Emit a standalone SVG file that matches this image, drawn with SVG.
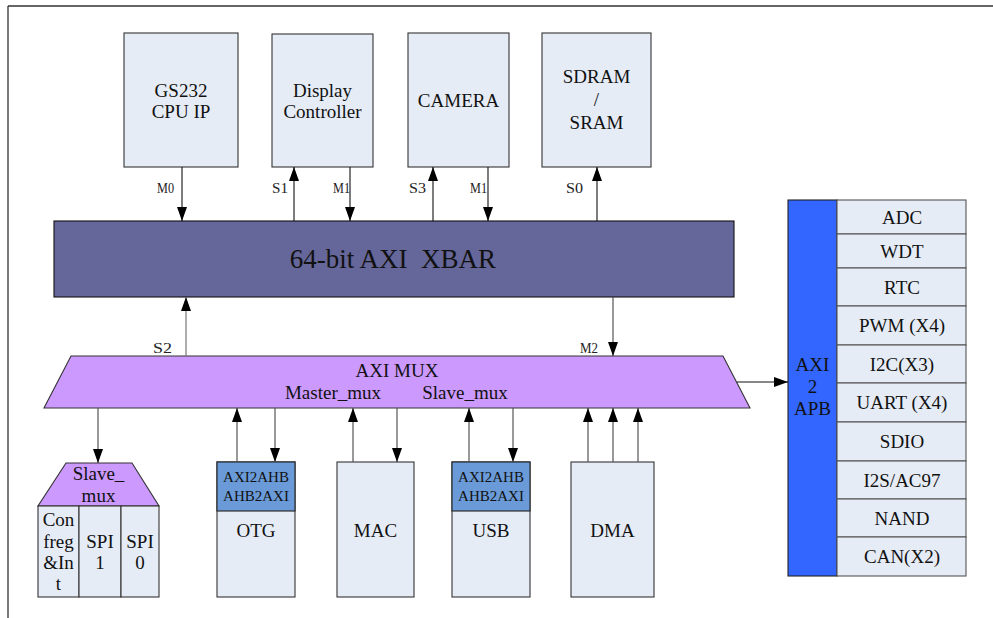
<svg xmlns="http://www.w3.org/2000/svg" width="993" height="618" viewBox="0 0 993 618">
<style>
text{font-family:"Liberation Serif","Times New Roman",serif;fill:#111;text-anchor:middle}
.t{font-size:19px}
.s{font-size:15px}
.lb{font-size:15px;text-anchor:start;fill:#222}
.box{fill:#e6ecf6;stroke:#333;stroke-width:1.1}
.per{fill:#e6ecf6;stroke:#555;stroke-width:1.1}
.hdr{fill:#6a9bd8;stroke:#222;stroke-width:1.1}
.c{stroke:#111;stroke-width:1.1;fill:none;marker-end:url(#ah)}
.cg{stroke:#555;stroke-width:1.2;fill:none;marker-end:url(#ah)}
</style>
<defs>
<marker id="ah" viewBox="0 0 14 10" refX="14" refY="5" markerWidth="14" markerHeight="10" markerUnits="userSpaceOnUse" orient="auto">
<path d="M0,0 L14,5 L0,10 z" fill="#000"/>
</marker>
</defs>
<rect width="993" height="618" fill="#fff"/>
<g id="frame" stroke="#333" stroke-width="1.3" fill="none">
<line x1="8" y1="6" x2="993" y2="6"/>
<line x1="8" y1="6" x2="8" y2="618"/>
</g>

<g id="cpu"><rect class="box" x="124" y="33" width="114" height="134"/>
<text class="t" x="181" y="97">GS232</text><text class="t" x="181" y="118">CPU IP</text></g>
<g id="display"><rect class="box" x="272" y="34" width="101" height="133"/>
<text class="t" x="322.5" y="97">Display</text><text class="t" x="322.5" y="118">Controller</text></g>
<g id="camera"><rect class="box" x="408" y="33" width="101" height="134"/>
<text class="t" x="458.5" y="107">CAMERA</text></g>
<g id="sdram"><rect class="box" x="542" y="33" width="109" height="134"/>
<text class="t" x="596.5" y="83">SDRAM</text><text class="t" x="596.5" y="106">/</text><text class="t" x="596.5" y="129">SRAM</text></g>

<g id="xbar"><rect x="54" y="221" width="680" height="76" fill="#656699" stroke="#111" stroke-width="1.1"/>
<text x="393" y="268" style="font-size:27px" xml:space="preserve">64-bit AXI  XBAR</text></g>

<g id="axi_mux"><polygon points="71,356 723,356 750,408 44,408" fill="#cc99ff" stroke="#333" stroke-width="1.1"/>
<text class="t" x="397" y="377">AXI MUX</text>
<text class="t" x="333" y="399">Master_mux</text>
<text class="t" x="465" y="399">Slave_mux</text></g>

<g id="axi2apb"><rect x="788" y="200" width="49" height="376" fill="#3366ff" stroke="#222" stroke-width="1.1"/>
<text class="t" x="812.5" y="371">AXI</text><text class="t" x="812.5" y="393">2</text><text class="t" x="812.5" y="415">APB</text></g>

<g id="peripherals">
<rect class="per" x="837" y="200" width="129" height="34"/><text class="t" x="902" y="223.5">ADC</text>
<rect class="per" x="837" y="234" width="129" height="34"/><text class="t" x="902" y="257.5">WDT</text>
<rect class="per" x="837" y="268" width="129" height="38"/><text class="t" x="902" y="293.5">RTC</text>
<rect class="per" x="837" y="306" width="129" height="39"/><text class="t" x="902" y="332">PWM (X4)</text>
<rect class="per" x="837" y="345" width="129" height="38"/><text class="t" x="902" y="370.5">I2C(X3)</text>
<rect class="per" x="837" y="383" width="129" height="39"/><text class="t" x="902" y="409">UART (X4)</text>
<rect class="per" x="837" y="422" width="129" height="39"/><text class="t" x="902" y="448">SDIO</text>
<rect class="per" x="837" y="461" width="129" height="38"/><text class="t" x="902" y="486.5">I2S/AC97</text>
<rect class="per" x="837" y="499" width="129" height="38"/><text class="t" x="902" y="524.5">NAND</text>
<rect class="per" x="837" y="537" width="129" height="39"/><text class="t" x="902" y="563">CAN(X2)</text>
</g>

<g id="slave_mux"><polygon points="66,463 132,463 159,506 38,506" fill="#cc99ff" stroke="#333" stroke-width="1.1"/>
<text class="t" x="98.5" y="480">Slave_</text><text class="t" x="98.5" y="502">mux</text></g>
<g id="confreg"><rect class="box" x="38" y="506" width="41" height="91"/>
<text class="t" x="58.5" y="526">Con</text><text class="t" x="58.5" y="548">freg</text><text class="t" x="58.5" y="569">&amp;In</text><text class="t" x="58.5" y="590">t</text></g>
<g id="spi1"><rect class="box" x="79" y="506" width="42" height="91"/>
<text class="t" x="100" y="548">SPI</text><text class="t" x="100" y="569">1</text></g>
<g id="spi0"><rect class="box" x="121" y="506" width="38" height="91"/>
<text class="t" x="140" y="548">SPI</text><text class="t" x="140" y="569">0</text></g>

<g id="otg"><rect class="box" x="217" y="462" width="78" height="135"/>
<rect class="hdr" x="217" y="462" width="78" height="49"/>
<text class="s" x="256" y="482">AXI2AHB</text><text class="s" x="256" y="501">AHB2AXI</text>
<text class="t" x="256" y="537">OTG</text></g>
<g id="mac"><rect class="box" x="337" y="462" width="77" height="135"/>
<text class="t" x="375.5" y="537">MAC</text></g>
<g id="usb"><rect class="box" x="452" y="462" width="78" height="135"/>
<rect class="hdr" x="452" y="462" width="78" height="49"/>
<text class="s" x="491" y="482">AXI2AHB</text><text class="s" x="491" y="501">AHB2AXI</text>
<text class="t" x="491" y="537">USB</text></g>
<g id="dma"><rect class="box" x="571" y="462" width="83" height="135"/>
<text class="t" x="612.5" y="537">DMA</text></g>

<g id="connectors">
<line class="c" x1="182" y1="167" x2="182" y2="221"/>
<line class="c" x1="294" y1="221" x2="294" y2="167"/>
<line class="c" x1="350" y1="167" x2="350" y2="221"/>
<line class="c" x1="433" y1="221" x2="433" y2="167"/>
<line class="c" x1="488" y1="167" x2="488" y2="221"/>
<line class="c" x1="597" y1="221" x2="597" y2="167"/>
<line class="cg" x1="186" y1="356" x2="186" y2="297" style="stroke:#777"/>
<line class="cg" x1="613" y1="297" x2="613" y2="356"/>
<line class="c" x1="737" y1="382" x2="788" y2="382"/>
<line class="cg" x1="98" y1="408" x2="98" y2="463"/>
<line class="cg" x1="237" y1="462" x2="237" y2="408"/>
<line class="cg" x1="275" y1="408" x2="275" y2="462"/>
<line class="cg" x1="353" y1="462" x2="353" y2="408"/>
<line class="cg" x1="397" y1="408" x2="397" y2="462"/>
<line class="cg" x1="469" y1="462" x2="469" y2="408"/>
<line class="cg" x1="513" y1="408" x2="513" y2="462"/>
<line class="cg" x1="588" y1="462" x2="588" y2="408"/>
<line class="cg" x1="613" y1="462" x2="613" y2="408"/>
<line class="cg" x1="638" y1="462" x2="638" y2="408"/>
<text class="lb" x="157" y="193" textLength="17" lengthAdjust="spacingAndGlyphs">M0</text>
<text class="lb" x="272" y="193" textLength="16" lengthAdjust="spacingAndGlyphs">S1</text>
<text class="lb" x="333" y="193" textLength="17" lengthAdjust="spacingAndGlyphs">M1</text>
<text class="lb" x="409" y="193" textLength="17" lengthAdjust="spacingAndGlyphs">S3</text>
<text class="lb" x="470" y="193" textLength="17" lengthAdjust="spacingAndGlyphs">M1</text>
<text class="lb" x="566" y="193" textLength="17" lengthAdjust="spacingAndGlyphs">S0</text>
<text class="lb" x="153" y="353" textLength="19" lengthAdjust="spacingAndGlyphs">S2</text>
<text class="lb" x="580" y="353" textLength="18" lengthAdjust="spacingAndGlyphs">M2</text>
</g>
</svg>
